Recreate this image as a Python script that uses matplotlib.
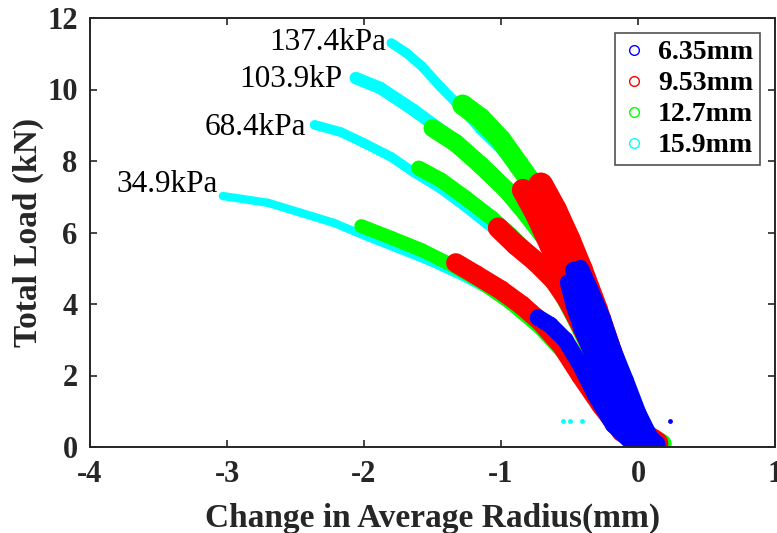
import matplotlib
matplotlib.use("Agg")
import matplotlib.pyplot as plt
from matplotlib.collections import LineCollection
from matplotlib.lines import Line2D
import numpy as np

# ---- data: change in average radius (mm) vs total load (kN) ----
# one curve per inflation pressure, listed low -> high pressure
pressure_labels = ["34.9kPa", "68.4kPa", "103.9kP", "137.4kPa"]
label_r = [-3.81, -3.16, -2.91, -2.69]
label_load = [7.13, 8.73, 10.07, 11.10]

diameters = ["6.35mm", "9.53mm", "12.7mm", "15.9mm"]

# 15.9 mm
r_159 = [
    [-3.03, -2.70, -2.46, -2.22, -1.97, -1.73, -1.51, -1.29, -1.07, -0.85, -0.67, -0.53, -0.38, -0.23, -0.09, 0.00],
    [-2.36, -2.17, -2.00, -1.80, -1.64, -1.44, -1.27, -1.07, -0.89, -0.71, -0.56, -0.43, -0.31, -0.18, -0.07, 0.03],
    [-2.06, -1.88, -1.64, -1.44, -1.26, -1.07, -0.89, -0.71, -0.55, -0.42, -0.29, -0.18, -0.09, 0.06],
    [-1.80, -1.69, -1.58, -1.44, -1.29, -1.15, -1.00, -0.85, -0.67, -0.53, -0.38, -0.27, -0.16, -0.07, 0.10],
]
load_159 = [
    [7.02, 6.83, 6.55, 6.27, 5.87, 5.51, 5.17, 4.78, 4.34, 3.78, 3.22, 2.57, 1.82, 0.98, 0.28, 0.08],
    [9.01, 8.81, 8.50, 8.11, 7.69, 7.22, 6.74, 6.13, 5.57, 5.01, 4.34, 3.41, 2.38, 1.31, 0.42, 0.08],
    [10.32, 10.04, 9.43, 8.87, 8.31, 7.69, 6.97, 6.21, 5.37, 4.39, 3.27, 2.15, 1.03, 0.08],
    [11.30, 11.02, 10.66, 10.07, 9.48, 8.87, 8.31, 7.61, 6.77, 5.79, 4.67, 3.55, 2.29, 1.03, 0.08],
]
stray_r_159 = [-0.55, -0.50, -0.41, -0.25, -0.18]
stray_load_159 = [0.73, 0.73, 0.73, 0.73, 0.73]

# 12.7 mm
r_127 = [
    [-2.02, -1.80, -1.58, -1.36, -1.15, -0.93, -0.72, -0.55, -0.40, -0.25, -0.10, 0.08],
    [-1.60, -1.44, -1.26, -1.07, -0.93, -0.76, -0.60, -0.46, -0.33, -0.20, -0.08, 0.12],
    [-1.50, -1.33, -1.15, -0.96, -0.82, -0.68, -0.55, -0.42, -0.29, -0.16, -0.05, 0.14],
    [-1.28, -1.15, -1.00, -0.87, -0.74, -0.60, -0.45, -0.33, -0.21, -0.11, 0.00, 0.17],
]
load_127 = [
    [6.18, 5.85, 5.51, 5.09, 4.62, 4.03, 3.35, 2.65, 1.85, 1.05, 0.35, 0.08],
    [7.80, 7.47, 6.97, 6.41, 5.93, 5.30, 4.55, 3.55, 2.50, 1.40, 0.45, 0.08],
    [8.92, 8.50, 7.89, 7.19, 6.55, 5.85, 5.00, 3.90, 2.75, 1.55, 0.50, 0.08],
    [9.57, 9.20, 8.59, 7.89, 7.19, 6.21, 5.09, 3.83, 2.43, 1.17, 0.40, 0.08],
]

# 9.53 mm
r_953 = [
    [-1.33, -1.18, -1.00, -0.85, -0.71, -0.56, -0.42, -0.27, -0.12, 0.03],
    [-1.02, -0.89, -0.74, -0.61, -0.51, -0.40, -0.29, -0.17, -0.06, 0.08],
    [-0.84, -0.74, -0.64, -0.53, -0.43, -0.33, -0.22, -0.11, 0.00, 0.10],
    [-0.71, -0.61, -0.51, -0.42, -0.31, -0.22, -0.13, -0.04, 0.05, 0.13],
]
load_953 = [
    [5.15, 4.81, 4.39, 3.97, 3.50, 2.85, 2.01, 1.17, 0.42, 0.10],
    [6.13, 5.65, 5.17, 4.67, 4.11, 3.30, 2.40, 1.45, 0.55, 0.10],
    [7.19, 6.49, 5.65, 4.81, 3.90, 2.95, 1.95, 1.00, 0.35, 0.10],
    [7.33, 6.63, 5.79, 4.95, 3.83, 2.80, 1.80, 0.90, 0.30, 0.10],
]

# 6.35 mm
r_635 = [
    [-0.73, -0.64, -0.53, -0.42, -0.31, -0.18, -0.05, 0.06],
    [-0.51, -0.47, -0.41, -0.31, -0.21, -0.11, -0.01, 0.08],
    [-0.47, -0.42, -0.34, -0.25, -0.15, -0.05, 0.05, 0.11],
    [-0.42, -0.35, -0.26, -0.18, -0.09, 0.00, 0.09, 0.14],
]
load_635 = [
    [3.62, 3.41, 2.99, 2.29, 1.45, 0.62, 0.14, 0.08],
    [4.60, 4.00, 3.30, 2.40, 1.60, 0.80, 0.20, 0.08],
    [4.95, 4.30, 3.50, 2.60, 1.75, 0.90, 0.20, 0.08],
    [5.00, 4.40, 3.60, 2.70, 1.85, 0.95, 0.25, 0.08],
]
stray_r_635 = [0.23]
stray_load_635 = [0.73]

# ---- styling ----
colors = {"6.35mm": "#0000ff", "9.53mm": "#ff0000", "12.7mm": "#00ff00", "15.9mm": "#00ffff"}
band_width = {            # stroke widths (pt) per pressure curve
    "15.9mm": [6, 7, 9, 7],
    "12.7mm": [10, 11, 13, 15],
    "9.53mm": [14, 15, 16, 18],
    "6.35mm": [12, 12, 12, 12],
}
series = [  # drawn bottom to top
    ("15.9mm", r_159, load_159),
    ("12.7mm", r_127, load_127),
    ("9.53mm", r_953, load_953),
    ("6.35mm", r_635, load_635),
]

plt.rcParams["font.family"] = ["Liberation Serif", "DejaVu Serif"]
plt.rcParams["axes.unicode_minus"] = False
ink = "#262626"

fig = plt.figure(figsize=(7.77, 5.33), dpi=100)
ax = fig.add_axes([90 / 777, 86 / 533, 685 / 777, 429 / 533])

for name, r_sets, load_sets in series:
    for k, (rs, ls) in enumerate(zip(r_sets, load_sets)):
        pts = np.column_stack([rs, ls])
        segs = np.stack([pts[:-1], pts[1:]], axis=1)
        lc = LineCollection(segs, colors=colors[name], linewidths=band_width[name][k],
                            capstyle="round", joinstyle="round")
        ax.add_collection(lc)
    if name == "15.9mm":
        ax.scatter(stray_r_159, stray_load_159, s=12, color=colors[name], lw=0)
ax.scatter(stray_r_635, stray_load_635, s=12, color=colors["6.35mm"], lw=0)

for txt, xr, yl in zip(pressure_labels, label_r, label_load):
    ax.text(xr, yl, txt, fontsize=22.5, color="black", ha="left", va="baseline")

ax.set_xlim(-4, 1)
ax.set_ylim(0, 12)
ax.set_xticks([-4, -3, -2, -1, 0, 1])
ax.set_yticks([0, 2, 4, 6, 8, 10, 12])
ax.tick_params(direction="in", length=5, width=1.2, top=True, right=True,
               labelsize=22, labelcolor=ink, color=ink)
ax.tick_params(axis="x", pad=9)
ax.tick_params(axis="y", pad=9)
for lab in ax.get_xticklabels() + ax.get_yticklabels():
    lab.set_fontweight("bold")
for sp in ax.spines.values():
    sp.set_linewidth(1.4)
    sp.set_color(ink)

ax.set_xlabel("Change in Average Radius(mm)", fontsize=24, fontweight="bold", color=ink, labelpad=10)
ax.set_ylabel("Total Load (kN)", fontsize=24, fontweight="bold", color=ink, labelpad=2)

handles = [Line2D([], [], ls="none", marker="o", markersize=7, markerfacecolor="none",
                  markeredgecolor=colors[d], markeredgewidth=1.0) for d in diameters]
leg = ax.legend(handles, diameters, loc="upper right", bbox_to_anchor=(0.978, 0.965),
                prop={"weight": "bold", "size": 20}, frameon=True, fancybox=False,
                edgecolor=ink, handlelength=0.9, handletextpad=0.4, borderpad=0.25,
                labelspacing=0.2, borderaxespad=0)
leg.get_frame().set_linewidth(1.2)

fig.savefig("out.png", dpi=100)
